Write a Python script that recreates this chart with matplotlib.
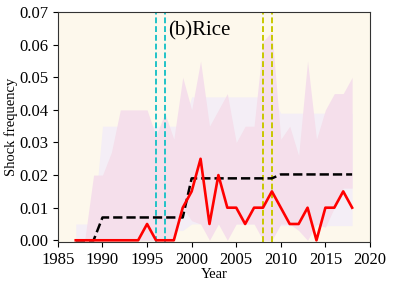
import numpy as np
import matplotlib
matplotlib.use("Agg")
from matplotlib import pyplot as plt

plt.rcParams['font.family'] = ['Liberation Serif', 'DejaVu Serif']

years = list(range(1987, 2019))

# observed shock frequency (red)
observed = [0, 0, 0, 0, 0, 0, 0, 0, 0.005, 0, 0, 0, 0.01, 0.015, 0.025, 0.005,
            0.02, 0.01, 0.01, 0.005, 0.01, 0.01, 0.015, 0.01, 0.005, 0.005,
            0.01, 0, 0.01, 0.01, 0.015, 0.01]

# period mean (black dashed)
period_mean = [0, 0, 0] + [0.007] * 10 + [0.019] * 10 + [0.0202] * 9

# period band (lavender)
band_low = [0, 0, 0] + [0.003] * 10 + [0.005] * 10 + [0.0045] * 9
band_high = [0.005, 0.005, 0.005] + [0.035] * 10 + [0.044] * 10 + [0.039] * 9

# yearly range (pink)
range_low = [0, 0, 0, 0, 0, 0, 0, 0, 0, 0, 0, 0, 0.01, 0.006, 0.005, 0,
             0.005, 0, 0.005, 0.005, 0.005, 0, 0, 0.005, 0.005, 0.003,
             0, 0.005, 0.004, 0.01, 0.016, 0.016]
range_high = [0, 0, 0.02, 0.02, 0.027, 0.04, 0.04, 0.04, 0.04, 0.032, 0.039,
              0.031, 0.05, 0.04, 0.055, 0.035, 0.04, 0.045, 0.03, 0.035,
              0.035, 0.061, 0.064, 0.031, 0.035, 0.026, 0.055, 0.031, 0.04,
              0.045, 0.045, 0.05]

# dashed markers
cyan_years = [1996, 1997]
yellow_years = [2008, 2009]

fig = plt.figure(figsize=(3.94, 2.88), dpi=100)
ax = fig.add_axes([0.147, 0.16, 0.792, 0.798])
ax.set_facecolor('#fdf8ec')

ax.fill_between(years, band_low, band_high, color='#f4eef6', lw=0)
ax.fill_between(years, range_low, range_high, color='#f5dfeb', lw=0)

for yr in cyan_years:
    ax.axvline(yr, color='#22c3c8', ls=(0, (3, 1.5)), lw=1.4)
for yr in yellow_years:
    ax.axvline(yr, color='#c8c800', ls=(0, (3, 1.5)), lw=1.4)

ax.plot(years, period_mean, 'k--', lw=1.8)
ax.plot(years, observed, 'r-', lw=1.9)

ax.text(0.352, 0.92, '(b)Rice', transform=ax.transAxes, ha='left',
        va='center', fontsize=15)

ax.set_xlim(1985, 2020)
ax.set_ylim(-0.0005, 0.07)
ax.set_xticks(range(1985, 2021, 5))
ax.set_yticks(np.arange(0, 0.071, 0.01))
ax.set_yticklabels([f'{v:.2f}' for v in np.arange(0, 0.071, 0.01)])
ax.tick_params(labelsize=12)
ax.set_xlabel('Year', fontsize=10.5, labelpad=0)
ax.set_ylabel('Shock frequency', fontsize=10.5, labelpad=1)
for s in ax.spines.values():
    s.set_color('#333333')

fig.savefig('out.png', dpi=100)
